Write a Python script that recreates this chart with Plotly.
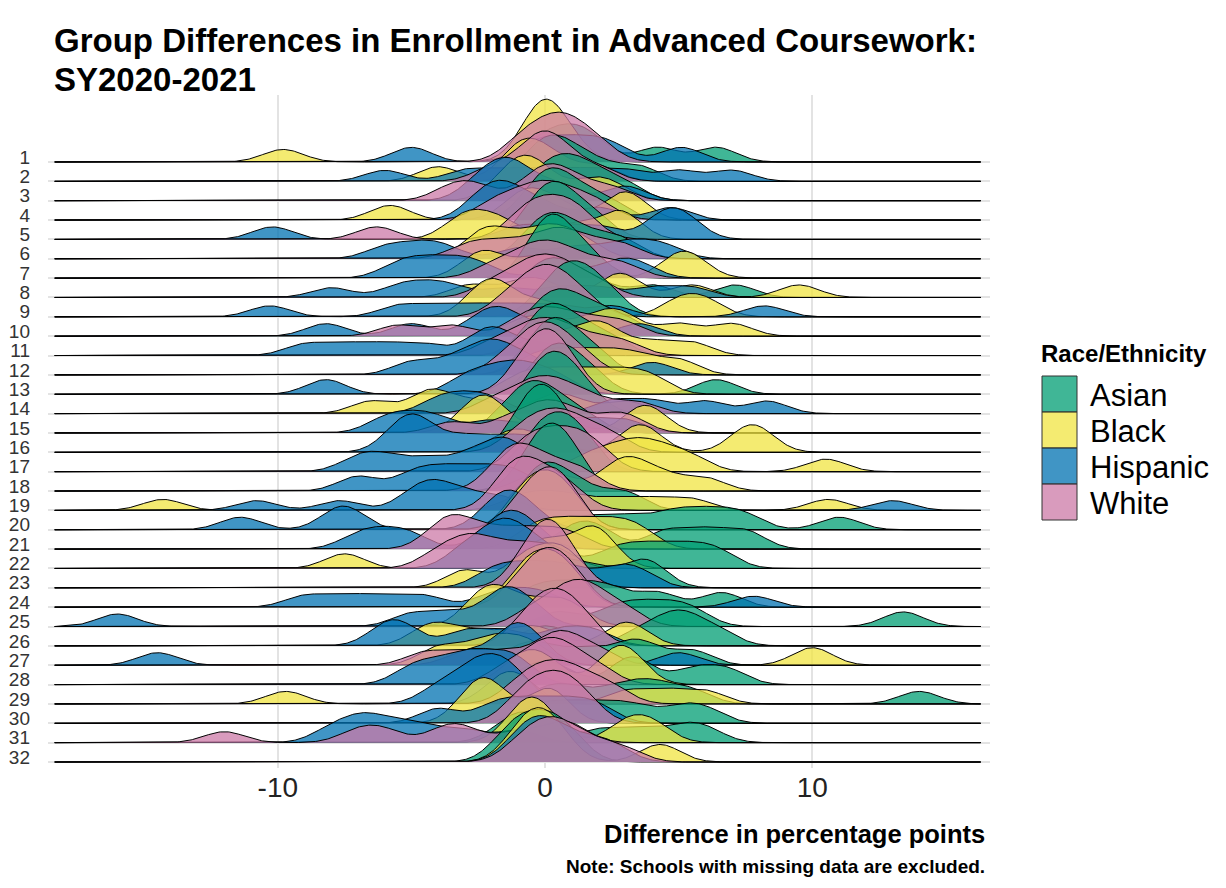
import numpy as np
import plotly.graph_objects as go

# rows (schools) from top to bottom
schools = [str(i) for i in range(1, 33)]
groups = ["Asian", "Black", "Hispanic", "White"]
fills = {"Asian": "rgba(0,158,115,0.75)", "Black": "rgba(240,228,66,0.75)",
         "Hispanic": "rgba(0,114,178,0.75)", "White": "rgba(204,121,167,0.75)"}

# difference in percentage points (one list per school)
asian_vals = [
    [-0.2, 0.5, 1.2, 1.8, 4.2, 6.4], [-0.5, 0, 0.5, 1.0, 2.0, 3.5], [-0.3, 0.3, 0.8, 1.3, 2.0, 3.0],
    [-0.5, 0, 0.3, 0.8, 1.5, 2.5], [-0.5, 0, 0.3, 0.6, 1.2, 2], [-0.5, 0, 0.5, 1, 2, 3],
    [-0.3, 0, 0.2, 0.5, 1, 1.8], [-0.5, 0, 0.5, 1, 2, 4, 7.1], [0, 0.5, 1, 1.3, 1.8, 2.5],
    [-0.3, 0.2, 0.7, 1.2, 2, 3], [-0.5, 0, 0.3, 0.8, 1.5, 2.5], [-0.5, 0, 0.3, 0.7, 1.2, 2],
    [-0.3, 0.2, 0.6, 1, 1.8, 6.4], [-0.5, 0, 0.4, 0.8, 1.5], [-1.5, -0.8, -0.5, 0, 0.5, 1.5],
    [-1, -0.5, -0.3, 0, 0.3, 0.8], [-0.5, 0, 0.5, 1, 1.5], [-0.5, 0, 0.5, 1],
    [-0.5, 0, 0.5, 1.5, 3], [1.5, 3, 4.5, 5.5, 6.5, 7.5, 11], [1, 2, 4.5, 6, 7.5],
    [0.5, 2.5, 3.5, 4.5, 5.5, 6.5], [-0.5, 0, 1, 2, 3.5, 4], [-0.5, 0.5, 1.5, 2.5, 4.2, 6.6],
    [0.5, 2.5, 3.5, 4.5, 5.5, 13.4], [-0.5, 0.5, 3.5, 4.5, 5, 5.5, 6.5], [-1, 0, 1.5, 3, 3.8, 5.5],
    [-0.5, 0.5, 3, 3.5, 5.5, 6.8], [0, 1, 2.5, 3.5, 4.3, 5.5, 14], [-0.5, 0.5, 1.5, 2.5, 3.5, 5, 6],
    [-1.5, -0.8, -0.3, 2, 3.5, 5, 6], [-1.5, -1, -0.5, 0, 0.5, 1],
]
black_vals = [
    [-9.8, -0.6, -0.2, 0, 0.1, 0.3, 1.0], [-4, -1.2, -0.8, -0.3, 0.5, 2], [-1.5, -1, -0.5, 0, 1.5, 2.5],
    [-5.8, -1.0, -0.5, 0.5, 2.8, 3.2], [-3.2, -2.5, -1.5, 2.6, 3.0, 1.0], [-2.5, -2, -1, 0, 0.5, 1.5],
    [-2.6, -2, -0.5, 0.5, 4.9, 5.5], [-2.8, -1, 0, 2.6, 3, 5.5, 9.5], [-2.5, -2, -1.5, 0, 5, 6],
    [-1, 0, 1.5, 2.5, 3, 5, 7], [-0.5, 0.5, 1.5, 2, 2.5, 4, 5.5], [-0.5, 0.5, 1.5, 2.5, 3.5, 5],
    [-1, 0, 1, 2, 3, 4], [-6.5, -4.5, -4, -2.5, 0, 1, 3], [-2.8, -2.3, -1.8, 0.5, 3.5, 4],
    [-1.5, -0.5, 3.3, 3.8, 7.5, 8], [1.5, 2.5, 3.2, 3.8, 4.5, 5.5, 10.5], [-0.5, 0.5, 2.5, 3, 3.5, 4.5, 6],
    [-14.3, -1, 0, 1, 2.5, 4, 5.5, 10.6], [-1, -0.5, 0, 0.5, 1], [-0.5, 0.5, 1.5, 2.5, 3.5],
    [-7.5, -0.3, 0.2, 1.5, 1.8, 2.2], [-3, -1, -0.3, 0.5, 1], [-1, -0.3, 0.3, 1],
    [-2.5, -2, -1.2, 0, 1], [-4.5, -3.8, -2.5, -1, 0, 2.8, 3.3], [-4, -2.5, -1.5, -0.5, 10],
    [-1, 0, 2.5, 3.2], [-9.7, -1.8, -1.3, -0.8, 3, 4.5, 6], [-2.8, -2.3, -1.8, 0, 0.3],
    [-1, -0.5, 0, 3, 4], [-1, -0.5, 0, 0.5, 4.3],
]
hispanic_vals = [
    [-5, -0.5, 0.5, 1.5, 2.5, 5.1], [-6, -3, -1.5, 0, 1.5, 3, 5, 7], [-2.5, -1.8, -1.3, -0.8, 0.5, 3],
    [-2.5, -2, -1.5, -1, 0, 2, 4.7], [-10.2, -1, 0.5, 2.0, 4.2, 4.8, 5.3], [-6, -4.8, -3.8, -1, 1, 2.5, 3.5, 4.5],
    [-5.5, -4.5, -3.5, -2.5, 0.5, 2.5, 3.5], [-8, -5.5, -4.5, -3.5, -1.5, 0.5, 2, 4, 5.5],
    [-10.3, -5.5, -4, -2.5, -1, 0.5, 2.5, 8.2], [-8.2, -5, -2.5, -1.8, -1.2, 0.5, 3.5],
    [-9, -7.5, -6, -4.5, -2.5, -2, -1.5, 0], [-5, -3.5, -2.5, -2, -1.5, -0.5, 4],
    [-8.2, -3, -2, -1.2, -0.5, 0.5], [-4, -3, -2, 2.5, 4, 6, 8.3], [-6, -5, -4, -2, 0, 1.5, 3],
    [-5.5, -5, -4.5, -3, -1.5, 0], [-7, -6, -4.5, -3, -2, -1.5, -1], [-7, -5, -4, -3, -2, -1],
    [-10.8, -7.7, -5, -4.5, -4, -3.5, -2.5, -1.5, 13], [-11.4, -7.8, -7.3, -2, -1.5, -1.2, -0.5],
    [-7, -6, -5, -2, -1.5, -1, -0.5], [-3, -2, -1.5, -1, 0], [-2, -1, 0, 1, 2.5, 3.5],
    [-9, -7.5, -6, -4.5, -2, -1, 0, 7.8], [-16, -5, -3.5, -2, -1.5, -1.2, -0.5],
    [-6, -5.3, -3, -1.5, 0.5, 1.8], [-14.5, -3, -1.5, -1.2, -0.8, -0.3, 5], [-5, -4, -3, -2.5, -1.5, -1],
    [-4, -3, -2.5, -2, -1.5, -1], [-4, -2, -1, 0, 1, 2], [-8, -7, -6.5, -5.5, -4.5, -3, -1],
    [-1, -0.5, 0, 0.5, 1.5, 2.5],
]
white_vals = [
    [-1, -0.3, 0.3, 0.7, 1.2, 2.0], [-2, -0.8, -0.3, 0, 0.3, 0.8, 2], [-3.5, -2.5, -0.5, 0, 0.5, 1.2, 2.5],
    [-2, -1, -0.3, 0.3, 1, 2], [-6.3, -1, -0.5, 0, 0.5, 1.0, 1.5], [-3, -2, -1, 0, 0.5, 1, 2, 3],
    [-2, -1, -0.5, 0, 0.5, 1, 2, 3], [-2, -1, -0.5, 0, 0.5, 1, 2], [-1.5, -0.8, -0.3, 0, 0.4, 0.8, 1.5],
    [-5.5, -3.5, -1, -0.3, 0.3, 1, 2, 3], [-2, -1, -0.5, 0, 0.5, 1, 2, 3], [-1.5, -0.8, -0.3, 0, 0.3, 0.8, 1.5],
    [-1, -0.5, -0.2, 0, 0.3, 0.6, 1], [-2, -1, -0.5, 0, 0.5, 1, 2, 3.5], [-3.5, -1.5, -0.5, 0, 0.5, 1.2, 2.5, 3.2],
    [-1, -0.3, 0.3, 0.8, 1.5, 2.5], [-1, -0.5, 0, 0.5, 1, 1.5, 2], [-1.8, -1.3, -1, -0.6, 0, 0.8, 1.5],
    [-1.5, -1.2, -0.8, -0.3, 0.3, 1], [-1, -0.5, 0, 0.3, 0.6, 1], [-4, -3.5, -3, -2, -1, 0, 1],
    [-4, -3, -2.5, -1.5, -0.5, 0.5], [-0.8, -0.3, 0, 0.2, 0.5, 1], [-1, -0.5, 0, 0.3, 0.7, 1.2],
    [-0.5, 0.5, 1, 1.5, 2, 3], [-0.8, -0.3, 0.2, 0.5, 1, 1.5], [-4.5, -3, -1.5, 0, 0.5, 1, 2],
    [-1.5, -0.5, 0, 0.5, 1, 2], [-1, -0.3, 0.3, 0.8, 1.5, 2.5], [-1, -0.3, 0.3, 0.8, 1.5],
    [-12, -7, -6, -3.8, -3, -1, 0.5, 1], [-1, -0.5, 0, 0.3, 0.7, 1.2, 2, 3],
]
group_vals = {"Asian": asian_vals, "Black": black_vals, "Hispanic": hispanic_vals, "White": white_vals}

bw = 0.75      # common kernel bandwidth
scale = 8.5    # ridge height (rows per density unit)
grid = np.linspace(-18.35, 16.3, 700)


def kde(vals):
    v = np.asarray(vals, dtype=float)
    z = (grid[:, None] - v[None, :]) / bw
    return np.exp(-0.5 * z ** 2).sum(axis=1) / (len(v) * bw * np.sqrt(2 * np.pi))


fig = go.Figure()
n = len(schools)
for i, school in enumerate(schools):
    base = n - 1 - i
    for g in groups:
        d = kde(group_vals[g][i])
        xs = np.concatenate([[grid[0]], grid, [grid[-1]]])
        ys = np.concatenate([[base], base + scale * d, [base]])
        fig.add_trace(go.Scatter(x=xs, y=ys, mode="lines", fill="toself", fillcolor=fills[g],
                                 line=dict(color="black", width=1), hoverinfo="skip", showlegend=False))

# page has an 8px body margin; positions below are page pixels
OFF = 8
L, R, T, B = 48, 990, 95, 768
W, H = 1226 - 2 * OFF, 888 - 2 * OFF


def px(x):
    return (x - L) / (R - L)


def py(y):
    return (B - y) / (B - T)


fig.update_layout(
    width=W, height=H,
    margin=dict(l=L - OFF, r=W + OFF - R, t=T - OFF, b=H + OFF - B),
    plot_bgcolor="white", paper_bgcolor="white",
    font=dict(family="Liberation Sans, Arial, sans-serif", color="#222"),
    xaxis=dict(range=[-18.6, 16.65], tickvals=[-10, 0, 10], ticktext=["-10", "0", "10"],
               showgrid=True, gridcolor="#E3E3E3", gridwidth=1.5, zeroline=False, automargin=False,
               showline=False, ticks="", tickfont=dict(size=28, color="#222")),
    yaxis=dict(range=[-0.31, 34.46], tickvals=[n - 1 - i for i in range(n)], ticktext=schools,
               showgrid=True, gridcolor="#E3E3E3", gridwidth=1.5, zeroline=False, automargin=False,
               showline=False, ticks="", ticklabelshift=-5, ticklabelstandoff=17,
               tickfont=dict(size=19, color="#333")),
)

title_font = dict(size=33, color="black")
fig.add_annotation(text="<b>Group Differences in Enrollment in Advanced Coursework:</b>", xref="paper",
                   yref="paper", x=px(52), y=py(40), xanchor="left", yanchor="middle", showarrow=False,
                   font=title_font)
fig.add_annotation(text="<b>SY2020-2021</b>", xref="paper", yref="paper", x=px(52), y=py(79),
                   xanchor="left", yanchor="middle", showarrow=False, font=title_font)

fig.add_annotation(text="<b>Difference in percentage points</b>", xref="paper", yref="paper",
                   x=px(987), y=py(834), xanchor="right", yanchor="middle", showarrow=False,
                   font=dict(size=25.5, color="black"))
fig.add_annotation(text="<b>Note: Schools with missing data are excluded.</b>", xref="paper", yref="paper",
                   x=px(987), y=py(866), xanchor="right", yanchor="middle", showarrow=False,
                   font=dict(size=19, color="black"))

# legend drawn by hand
fig.add_annotation(text="<b>Race/Ethnicity</b>", xref="paper", yref="paper", x=px(1039), y=py(353),
                   xanchor="left", yanchor="middle", showarrow=False, font=dict(size=24, color="black"))
for k, g in enumerate(groups):
    y0 = 376 + 36 * k
    fig.add_shape(type="rect", xref="paper", yref="paper", x0=px(1042), x1=px(1077),
                  y0=py(y0), y1=py(y0 + 36), fillcolor=fills[g], line=dict(color="#333", width=1))
    fig.add_annotation(text=g, xref="paper", yref="paper", x=px(1088), y=py(y0 + 19),
                       xanchor="left", yanchor="middle", showarrow=False, font=dict(size=31, color="black"))

fig.write_html("out.html")
